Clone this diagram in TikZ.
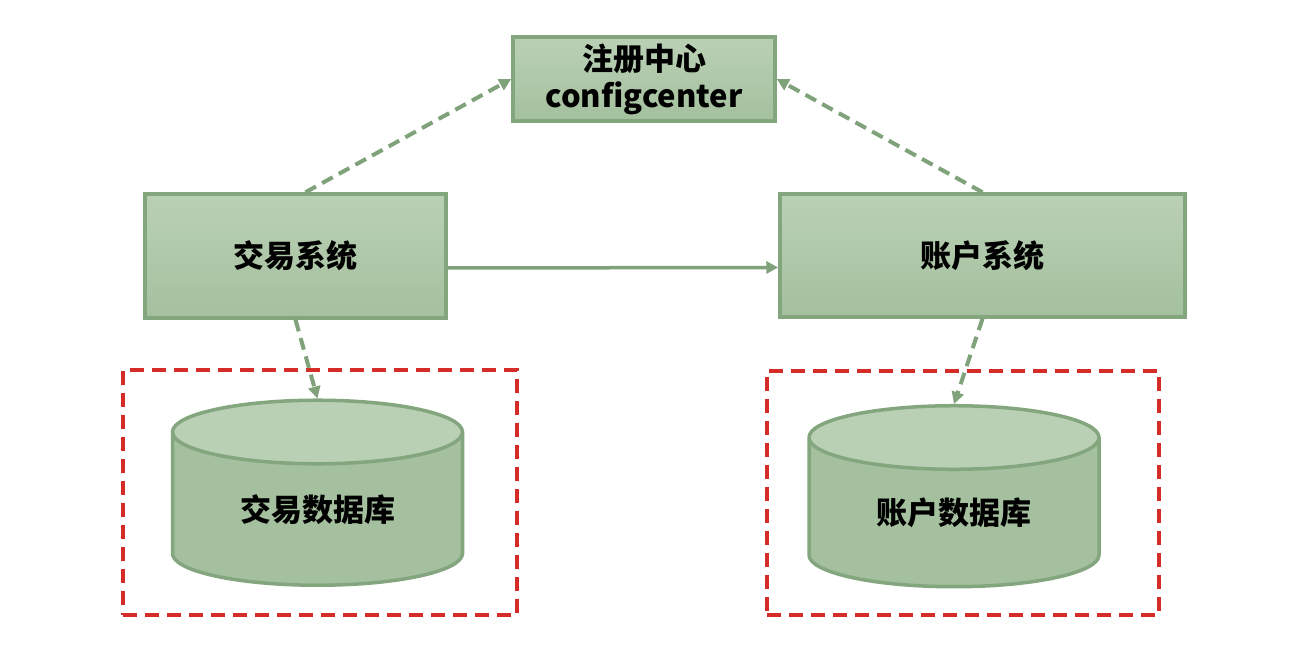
\documentclass[tikz,border=0pt]{standalone}
\usepackage{fontspec}
\setmainfont{Noto Sans CJK SC}
\usepackage{xcolor}
\usetikzlibrary{arrows.meta,shapes.geometric}

\definecolor{edgegreen}{RGB}{131,166,126}
\definecolor{lightgreen}{RGB}{186,208,181}
\definecolor{darkgreen}{RGB}{164,192,158}
\definecolor{arrowgreen}{RGB}{128,162,122}
\definecolor{dashred}{RGB}{214,44,40}

\begin{document}
\begin{tikzpicture}[x=1pt,y=1pt,
    sys/.style={draw=edgegreen, line width=3.5pt, top color=lightgreen, bottom color=darkgreen,
                font=\fontsize{31}{37}\selectfont\bfseries, align=center, inner sep=0pt},
    db/.style={cylinder, shape border rotate=90, aspect=0.41, draw=edgegreen, line width=3.5pt,
               cylinder uses custom fill, cylinder body fill=darkgreen, cylinder end fill=lightgreen,
               font=\fontsize{31}{37}\selectfont\bfseries, inner sep=0pt,
               minimum width=290pt, minimum height=185pt},
    grp/.style={draw=dashred, line width=4pt, dash pattern=on 14pt off 8pt},
    flow/.style={draw=arrowgreen, line width=3.5pt, -{Triangle[length=12pt,width=12pt]}},
    call/.style={flow, line width=4pt, dash pattern=on 12pt off 7pt}]

    \useasboundingbox[fill=white] (0,0) rectangle (1310,664);

    \node[sys, minimum width=262pt, minimum height=84pt] (cfg) at (644,585) {注册中心\\configcenter};
    \node[sys, minimum width=301pt, minimum height=124pt] (tx) at (295.5,408) {交易系统};
    \node[sys, minimum width=405pt, minimum height=123pt] (acc) at (982.5,408.5) {账户系统};

    \node[grp, minimum width=394pt, minimum height=245pt] (lgrp) at (320,171.5) {};
    \node[grp, minimum width=392pt, minimum height=244pt] (rgrp) at (963,171) {};

    \node[db] (ldb) at (317.5,154.5) {交易数据库};
    \node[db, minimum height=181pt] (adb) at (954,151) {账户数据库};

    \draw[flow] ([yshift=-12pt]tx.east) -- ([yshift=-12pt]acc.west);
    \draw[call] ([xshift=10pt]tx.north) -- (cfg.west);
    \draw[call] (acc.north) -- (cfg.east);
    \draw[call] (tx.south) -- (ldb.north);
    \draw[call] (acc.south) -- (adb.north);
\end{tikzpicture}
\end{document}
